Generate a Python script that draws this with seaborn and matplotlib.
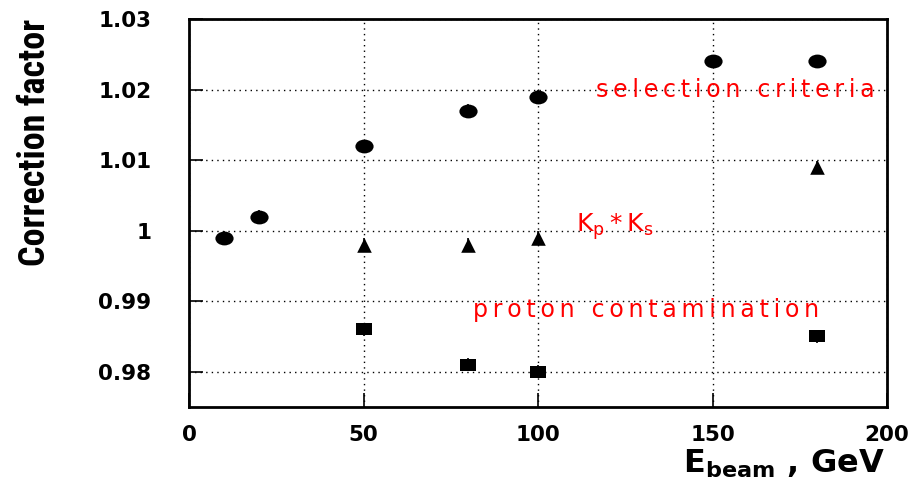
import matplotlib
matplotlib.use("Agg")
import matplotlib.pyplot as plt
import seaborn as sns
import pandas as pd
from matplotlib.markers import MarkerStyle
from matplotlib.transforms import Affine2D
from matplotlib import font_manager

sel_x = [10, 20, 50, 80, 100, 150, 180]
sel_y = [0.999, 1.002, 1.012, 1.017, 1.019, 1.024, 1.024]
kk_x = [50, 80, 100, 180]
kk_y = [0.998, 0.998, 0.999, 1.009]
pc_x = [50, 80, 100, 180]
pc_y = [0.986, 0.981, 0.980, 0.985]
err = 0.0009

x_ticks = [0, 50, 100, 150, 200]
y_ticks = [0.98, 0.99, 1.0, 1.01, 1.02, 1.03]
y_tick_labels = ["0.98", "0.99", "1", "1.01", "1.02", "1.03"]

sns.set_style("white")
plt.rcParams['font.family'] = ['DejaVu Sans']
plt.rcParams['text.color'] = 'black'
plt.rcParams['mathtext.fontset'] = 'custom'
plt.rcParams['mathtext.bf'] = 'DejaVu Sans:bold'
plt.rcParams['mathtext.rm'] = 'DejaVu Sans'

names = {f.name for f in font_manager.fontManager.ttflist}
narrow = 'Liberation Sans'
for cand in ['Liberation Sans Narrow', 'Roboto Condensed', 'Open Sans Condensed', 'DejaVu Sans Condensed']:
    if cand in names:
        narrow = cand
        break

fig = plt.figure(figsize=(9.23, 4.9), dpi=100)
ax = fig.add_axes([189/923, 1 - 407/490, (887-189)/923, (407-19)/490])

ell = MarkerStyle('o', transform=Affine2D().scale(1.25, 0.95))
sq = MarkerStyle('s', transform=Affine2D().scale(1.25, 0.95))

df_sel = pd.DataFrame({"x": sel_x, "y": sel_y})
df_kk = pd.DataFrame({"x": kk_x, "y": kk_y})
df_pc = pd.DataFrame({"x": pc_x, "y": pc_y})

for df, mk, s in [(df_sel, ell, 110), (df_kk, '^', 110), (df_pc, sq, 90)]:
    ax.errorbar(df["x"], df["y"], yerr=err, fmt='none', ecolor='black', elinewidth=1.2, zorder=3)
    sns.scatterplot(data=df, x="x", y="y", marker=mk, s=s, color='black', edgecolor='black',
                    linewidth=0, ax=ax, zorder=4)

ax.set_xlim(0, 200)
ax.set_ylim(0.975, 1.03)
ax.set_xticks(x_ticks)
ax.set_yticks(y_ticks)
ax.set_yticklabels(y_tick_labels)
ax.set_xticklabels([str(v) for v in x_ticks])
ax.grid(True, linestyle=(0, (1, 3)), color='black', linewidth=1.0)
for sp in ax.spines.values():
    sp.set_linewidth(2)
    sp.set_color('black')
ax.tick_params(left=True, bottom=True, direction='in', length=10, width=1.2,
               labelsize=15.5, colors='black')
ax.tick_params(axis='y', pad=27)
ax.tick_params(axis='x', pad=13)
for lab in ax.get_xticklabels() + ax.get_yticklabels():
    lab.set_fontweight('bold')
    lab.set_family(['DejaVu Sans'])

ax.set_xlabel("")
ax.set_ylabel("")
fig.text(35/923, 1 - 142/490, "Correction factor", rotation=90, ha='center', va='center',
         fontsize=26, fontweight='bold', color='black', family=[narrow, 'Liberation Sans'])
fig.text(885/923, 1 - 473/490, r"$\mathbf{E}_{\mathbf{beam}}$ , GeV", ha='right', va='baseline',
         fontsize=23, fontweight='bold', color='black', family=['DejaVu Sans'])

sp_ = "\u2009"
def spaced(s):
    return sp_.join(list(s))

red_font = dict(color='red', fontsize=17, family=['DejaVu Sans'])
ax.text(116.5, 1.0199, spaced("selection criteria"), ha='left', va='center', **red_font)
ax.text(111, 1.0006, "K$_\\mathregular{p}$\u2009*\u2009K$_\\mathregular{s}$", ha='left', va='center',
        color='red', fontsize=18, family=['DejaVu Sans'])
ax.text(81.5, 0.9887, spaced("proton contamination"), ha='left', va='center', **red_font)

fig.savefig("out.png", dpi=100)
